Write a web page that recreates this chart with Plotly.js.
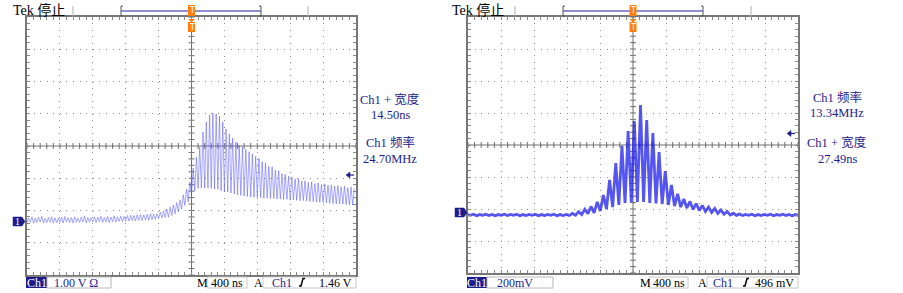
<!DOCTYPE html>
<html>
<head>
<meta charset="utf-8">
<script src="https://cdn.plot.ly/plotly-3.0.1.min.js"></script>
<style>html,body{margin:0;padding:0;background:#fff;}#chart{width:903px;height:293px;}</style>
</head>
<body>
<div id="chart"></div>
<script>
// Left capture: Ch1 1.00 V/div, 400 ns/div, ~24.7 MHz ringing; per-cycle trough / crest (V)
const leftCycleNs = 40;
const leftStartNs = -2000;
const leftLo = [-0.06,-0.04,-0.07,-0.05,-0.03,-0.06,-0.05,-0.04,-0.07,-0.05,-0.04,-0.06,-0.03,-0.05,-0.06,-0.04,-0.05,-0.03,-0.06,-0.04,-0.03,-0.05,-0.02,-0.04,-0.03,-0.05,-0.02,-0.03,-0.01,-0.02,
  -0.01,0.00,0.01,0.00,0.02,0.01,0.03,0.02,0.04,0.05,
  0.08,0.09,0.11,0.12,0.17,0.22,0.28,0.37,0.48,0.59,
  0.81,0.93,1.01,1.02,1.02,1.02,1.01,0.99,0.98,0.94,
  0.91,0.90,0.87,0.84,0.81,0.79,0.77,0.76,0.74,0.74,
  0.73,0.73,0.71,0.71,0.70,0.70,0.68,0.68,0.67,0.67,
  0.65,0.65,0.64,0.63,0.63,0.62,0.60,0.60,0.59,0.58,
  0.57,0.56,0.55,0.54,0.53,0.53,0.52,0.51,0.50,0.49];
const leftHi = [0.10,0.13,0.09,0.12,0.14,0.08,0.11,0.13,0.10,0.09,0.12,0.14,0.10,0.11,0.13,0.09,0.12,0.15,0.11,0.10,0.13,0.12,0.15,0.11,0.14,0.12,0.16,0.13,0.15,0.14,
  0.17,0.18,0.17,0.19,0.20,0.19,0.21,0.22,0.21,0.23,
  0.28,0.31,0.37,0.43,0.50,0.57,0.65,0.81,0.99,1.21,
  1.64,1.98,2.29,2.76,3.07,3.29,3.35,3.32,3.25,3.07,
  2.85,2.70,2.57,2.45,2.36,2.29,2.22,2.15,2.08,2.00,
  1.95,1.84,1.80,1.70,1.68,1.58,1.56,1.47,1.45,1.39,
  1.37,1.31,1.31,1.25,1.25,1.20,1.21,1.16,1.18,1.13,
  1.15,1.11,1.12,1.08,1.10,1.06,1.08,1.03,1.05,1.01];

// Right capture: Ch1 200 mV/div, 400 ns/div, ~13.34 MHz burst; per-cycle trough / crest (mV)
const rightCycleNs = 75;
const rightStartNs = -2046.5;
const rightLo = [-19,-18,-20,-18,-19,-20,-18,-19,-18,-20,-19,-18,-20,-19,-18,-20,-19,
  -19,-17,-13,-8,-3,9,22,34,47,59,66,66,66,59,56,53,47,41,34,28,19,13,6,0,-6,-11,-15,
  -18,-19,-18,-20,-19,-18,-20,-18,-19,-20,-18];
const rightHi = [-12,-11,-13,-11,-12,-13,-11,-12,-11,-13,-12,-11,-13,-12,-11,-13,-12,
  -6,5,20,38,66,109,203,309,416,509,572,672,578,497,378,259,172,116,84,69,56,44,34,25,16,6,-4,
  -10,-12,-11,-13,-12,-11,-13,-11,-12,-13,-11];

// Readouts
const leftReadout = ["Ch1 + 宽度", "14.50ns", "Ch1 频率", "24.70MHz"];
const rightReadout = ["Ch1 频率", "13.34MHz", "Ch1 + 宽度", "27.49ns"];
const leftScale = "1.00 V Ω", rightScale = "200mV";
const timeBase = "400 ns";
const leftTrig = "1.46 V", rightTrig = "496 mV";
const statusText = "Tek 停止";

// ---------------- LAYOUT HELPERS ----------------
const W = 903, H = 293;
const FONT = "Liberation Serif, Noto Sans CJK SC, serif";
const NAVY = '#1c1c8c';
const px = x => x / W, py = y => 1 - y / H;

function zigzag(lo, hi, t0, per) {
  const x = [], y = [];
  for (let i = 0; i < lo.length; i++) {
    x.push(t0 + per * i); y.push(lo[i]);
    x.push(t0 + per * i + per / 2); y.push(hi[i]);
  }
  return {x, y};
}
const L = zigzag(leftLo, leftHi, leftStartNs, leftCycleNs);
const R = zigzag(rightLo, rightHi, rightStartNs, rightCycleNs);

const traces = [
  {x: L.x, y: L.y, xaxis: 'x', yaxis: 'y', mode: 'lines', line: {color: 'rgba(80,80,255,0.5)', width: 1}, hoverinfo: 'skip'},
  {x: R.x, y: R.y, xaxis: 'x2', yaxis: 'y2', mode: 'lines', line: {color: 'rgba(25,25,235,0.74)', width: 2.8}, hoverinfo: 'skip'}
];

// panel geometry (pixels) and vertical scale
const panels = [
  {xa: 'x', ya: 'y', l: 27, r: 356, t: 17, b: 275, div: 1.0, ground: 221},
  {xa: 'x2', ya: 'y2', l: 468, r: 798, t: 17, b: 273, div: 200, ground: 212.5}
];
panels.forEach(p => {
  const divPx = (p.b - p.t) / 8;
  p.yc = (p.ground - (p.t + p.b) / 2) / divPx * p.div;
  p.divPxX = (p.r - p.l) / 10; p.divPxY = divPx;
});

function xAxis(p) {
  return {domain: [px(p.l), px(p.r)], range: [-2000, 2000], anchor: p.ya, fixedrange: true,
    showline: true, linewidth: 2, linecolor: '#777', mirror: 'allticks',
    ticks: 'inside', ticklen: 3, tickcolor: '#888', tickwidth: 1, tick0: 0, dtick: 400,
    showgrid: true, gridcolor: '#8a8a8a', gridwidth: 1, griddash: '1px,' + (p.divPxY / 5 - 1).toFixed(2) + 'px',
    zeroline: false, showticklabels: false,
    minor: {tick0: 0, dtick: 80, ticks: 'inside', ticklen: 3, tickcolor: '#888', showgrid: false}};
}
function yAxis(p) {
  return {domain: [py(p.b), py(p.t)], range: [p.yc - 4 * p.div, p.yc + 4 * p.div], anchor: p.xa, fixedrange: true,
    showline: true, linewidth: 2, linecolor: '#777', mirror: 'allticks',
    ticks: 'inside', ticklen: 3, tickcolor: '#888', tickwidth: 1, tick0: p.yc, dtick: p.div,
    showgrid: true, gridcolor: '#8a8a8a', gridwidth: 1, griddash: '1px,' + (p.divPxX / 5 - 1).toFixed(2) + 'px',
    zeroline: false, showticklabels: false,
    minor: {tick0: p.yc, dtick: p.div / 5, ticks: 'inside', ticklen: 3, tickcolor: '#888', showgrid: false}};
}

const shapes = [], ann = [];
function txt(x, y, s, o) {
  ann.push(Object.assign({xref: 'paper', yref: 'paper', x: px(x), y: py(y), text: s, showarrow: false,
    xanchor: 'center', yanchor: 'middle', font: {family: FONT, size: 12, color: '#000'}}, o || {}));
}
function rectPx(x0, y0, x1, y1, fill, line) {
  shapes.push({type: 'rect', xref: 'paper', yref: 'paper', x0: px(x0), x1: px(x1), y0: py(y1), y1: py(y0),
    fillcolor: fill, line: line || {width: 0}, layer: 'above'});
}
function pathPx(pts, close, fill, color, width) {
  const d = pts.map((p, i) => (i ? 'L' : 'M') + px(p[0]).toFixed(5) + ',' + py(p[1]).toFixed(5)).join(' ') + (close ? ' Z' : '');
  shapes.push({type: 'path', xref: 'paper', yref: 'paper', path: d, fillcolor: fill || 'rgba(0,0,0,0)',
    line: {color: color || 'rgba(0,0,0,0)', width: width || 0}, layer: 'above'});
}

panels.forEach(p => {
  // center crosshair
  shapes.push({type: 'line', xref: p.xa, yref: p.ya + ' domain', x0: 0, x1: 0, y0: 0, y1: 1, line: {color: '#707070', width: 1}, layer: 'below'});
  shapes.push({type: 'line', xref: p.xa + ' domain', yref: p.ya, x0: 0, x1: 1, y0: p.yc, y1: p.yc, line: {color: '#707070', width: 1}, layer: 'below'});
  for (let k = -25; k <= 25; k++) {
    if (k === 0) continue;
    shapes.push({type: 'line', xref: p.xa, yref: p.ya, ysizemode: 'pixel', yanchor: p.yc, y0: -3, y1: 3, x0: k * 80, x1: k * 80, line: {color: '#707070', width: 1}, layer: 'below'});
  }
  for (let k = -20; k <= 20; k++) {
    if (k === 0) continue;
    const v = p.yc + k * p.div / 5;
    shapes.push({type: 'line', xref: p.xa, yref: p.ya, xsizemode: 'pixel', xanchor: 0, x0: -3, x1: 3, y0: v, y1: v, line: {color: '#707070', width: 1}, layer: 'below'});
  }
});

// --- header items ---
function header(ox, cx, br0, br1, g0, g1) {
  txt(ox, 10, statusText, {xanchor: 'left', font: {family: FONT, size: 14, color: '#000'}});
  pathPx([[g0, 6], [g0, 17]], false, null, '#b0b0b0', 1);
  pathPx([[g1, 6], [g1, 17]], false, null, '#b0b0b0', 1);
  pathPx([[br0, 11], [br1, 11]], false, null, '#6a6ac8', 1.5);
  pathPx([[br0 + 2, 6], [br0, 6], [br0, 16], [br0 + 2, 16]], false, null, '#555', 1);
  pathPx([[br1 - 2, 6], [br1, 6], [br1, 16], [br1 - 2, 16]], false, null, '#555', 1);
  rectPx(cx - 3.5, 5, cx + 3.5, 16, '#ff7f0e');
  txt(cx, 10.5, 'T', {font: {family: 'DejaVu Sans', size: 8, color: '#fff'}});
  pathPx([[cx - 3.5, 19], [cx + 3.5, 19], [cx, 22.5]], true, '#ff7f0e');
  rectPx(cx - 3.5, 22, cx + 3.5, 32, '#ff7f0e');
  txt(cx, 27, 'T', {font: {family: 'DejaVu Sans', size: 8, color: '#fff'}});
}
header(11, 191.5, 121, 261, 73, 308);
header(450, 633, 563, 703, 515, 751);

// --- readouts ---
function readout(cx, lines, ys) {
  lines.forEach((s, i) => txt(cx, ys[i], s, {font: {family: FONT, size: 12.5, color: NAVY}}));
}
readout(390, leftReadout, [100, 115, 143, 159]);
readout(837, rightReadout, [97, 113, 142, 159]);

// trigger level arrows
function arrow(x, y) {
  pathPx([[x - 3, y], [x + 1, y - 3], [x + 1, y + 3]], true, NAVY, NAVY, 0.5);
  pathPx([[x, y], [x + 5, y]], false, null, NAVY, 1.2);
}
arrow(349, 175);
arrow(790, 133.5);

// ground markers
function ground(x, y) {
  pathPx([[x, y - 4.5], [x + 9, y - 4.5], [x + 12, y], [x + 9, y + 4.5], [x, y + 4.5]], true, NAVY, NAVY, 0.5);
  txt(x + 4.5, y, '1', {font: {family: FONT, size: 10, color: '#fff'}});
}
ground(13, 221.5);
ground(455, 212.5);

// --- bottom status bar ---
function bottom(o) {
  const yc = 282.5;
  rectPx(o.c0, 277, o.c1, 288, NAVY);
  txt((o.c0 + o.c1) / 2, yc, 'Ch1', {font: {family: FONT, size: 12, color: '#fff'}});
  rectPx(o.c1, 277, o.s1, 288, '#fff', {color: '#b8b8b8', width: 1});
  txt(o.sx, yc, o.scale, {font: {family: FONT, size: 12, color: NAVY}});
  txt(o.m, yc, 'M', {font: {family: FONT, size: 12, color: '#000'}});
  rectPx(o.t0, 277, o.t1, 288, '#fff', {color: '#c8c8c8', width: 1});
  txt((o.t0 + o.t1) / 2, yc, timeBase, {font: {family: FONT, size: 12, color: '#000'}});
  txt(o.a, yc, 'A', {font: {family: FONT, size: 12, color: '#000'}});
  rectPx(o.b0, 277, o.b1, 288, '#fff', {color: '#c8c8c8', width: 1});
  txt(o.ch, yc, 'Ch1', {font: {family: FONT, size: 12, color: NAVY}});
  pathPx([[o.e - 3, 286], [o.e - 1, 286], [o.e + 1, 278.5], [o.e + 3, 278.5]], false, null, '#000', 1.5);
  txt(o.b1 - 2, yc, o.trig, {xanchor: 'right', font: {family: FONT, size: 12, color: '#000'}});
}
bottom({c0: 26, c1: 47, s1: 111, sx: 76, scale: leftScale, m: 202, t0: 207, t1: 247, a: 258, b0: 263, b1: 356, ch: 282, e: 302, trig: leftTrig});
bottom({c0: 467, c1: 487, s1: 553, sx: 515, scale: rightScale, m: 645, t0: 649, t1: 688, a: 702, b0: 707, b1: 798, ch: 723, e: 746, trig: rightTrig});

const layout = {
  width: W, height: H, margin: {l: 0, r: 0, t: 0, b: 0},
  paper_bgcolor: '#fff', plot_bgcolor: '#fff', showlegend: false,
  xaxis: xAxis(panels[0]), yaxis: yAxis(panels[0]),
  xaxis2: xAxis(panels[1]), yaxis2: yAxis(panels[1]),
  shapes: shapes, annotations: ann
};
Plotly.newPlot('chart', traces, layout, {staticPlot: true, displayModeBar: false});
</script>
</body>
</html>
